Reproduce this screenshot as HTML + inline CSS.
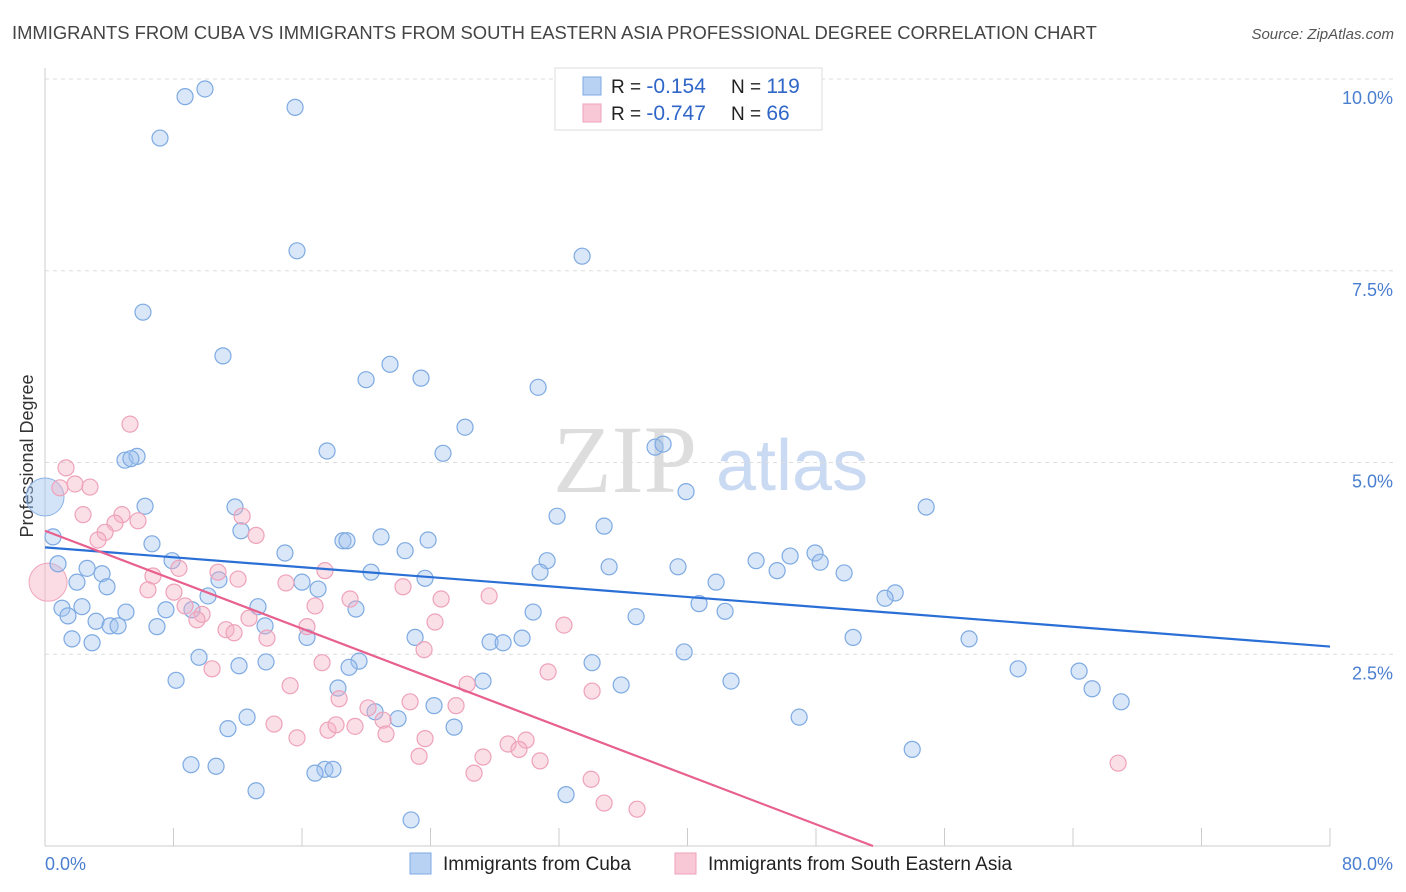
<!DOCTYPE html>
<html><head><meta charset="utf-8"><style>
body{margin:0;background:#fff;font-family:"Liberation Sans",sans-serif;}
#wrap{position:relative;width:1406px;height:892px;overflow:hidden;}
</style></head><body>
<div id="wrap">
<svg id="chart" width="1406" height="892" xmlns="http://www.w3.org/2000/svg"></svg>
</div>
<script>
const blueX=[9.96,8.72,15.57,7.16,15.69,33.44,6.10,11.08,21.48,19.99,23.41,30.70,26.15,17.56,24.78,37.98,38.48,4.98,5.73,5.35,39.91,54.86,6.23,11.83,31.88,34.81,12.20,0.50,18.55,18.80,20.92,23.85,6.66,14.94,22.42,31.26,44.27,46.39,47.94,48.26,7.91,0.81,2.62,3.55,35.12,39.41,20.30,30.82,45.58,49.75,23.66,41.78,10.83,1.99,3.86,16.00,17.00,10.15,52.93,52.30,1.06,2.30,9.15,7.53,13.26,5.04,30.39,40.72,42.34,19.36,1.43,3.18,4.05,4.55,6.97,36.80,13.70,16.31,23.04,27.71,28.52,29.70,50.31,57.53,1.68,2.93,39.79,9.59,13.76,12.08,19.55,18.93,34.06,60.58,64.38,8.16,27.27,18.24,35.87,42.71,65.19,67.00,24.22,20.55,12.58,21.98,46.95,11.39,25.47,53.99,9.09,10.65,17.43,17.93,16.81,13.14,32.44,22.79];
const blueY=[9.87,9.77,9.63,9.23,7.76,7.69,6.96,6.39,6.28,6.08,6.10,5.98,5.46,5.15,5.12,5.20,5.24,5.03,5.08,5.05,4.62,4.42,4.43,4.42,4.30,4.17,4.11,4.03,3.98,3.98,4.03,3.99,3.94,3.82,3.85,3.72,3.72,3.78,3.82,3.70,3.72,3.68,3.62,3.55,3.64,3.64,3.57,3.57,3.59,3.56,3.49,3.44,3.47,3.44,3.38,3.44,3.35,3.26,3.30,3.23,3.10,3.12,3.08,3.08,3.12,3.05,3.05,3.16,3.06,3.09,3.00,2.93,2.87,2.87,2.86,2.99,2.87,2.72,2.72,2.66,2.65,2.71,2.72,2.70,2.70,2.65,2.53,2.46,2.40,2.35,2.41,2.33,2.39,2.31,2.28,2.16,2.15,2.06,2.10,2.15,2.05,1.88,1.83,1.75,1.68,1.66,1.68,1.53,1.55,1.26,1.06,1.04,1.00,1.00,0.95,0.72,0.67,0.34];
const pinkX=[5.29,1.31,1.87,2.80,0.93,2.37,4.79,5.79,4.36,12.27,3.74,13.14,3.30,8.34,10.77,6.72,17.43,12.02,22.29,6.41,15.00,8.03,27.65,18.99,24.66,8.72,16.81,12.70,9.78,9.46,24.28,32.31,16.31,11.27,11.77,13.82,23.60,17.25,10.40,31.32,26.28,15.26,34.06,18.31,22.73,25.59,20.11,21.05,14.26,17.62,18.12,19.30,21.23,23.66,15.69,28.83,29.95,29.51,23.29,27.27,30.82,66.81,26.71,34.00,34.81,36.86];
const pinkY=[5.50,4.93,4.72,4.68,4.67,4.32,4.32,4.24,4.21,4.30,4.09,4.05,3.99,3.62,3.57,3.52,3.59,3.48,3.38,3.34,3.43,3.31,3.26,3.22,3.22,3.13,3.13,2.97,3.02,2.95,2.92,2.88,2.86,2.82,2.78,2.71,2.56,2.39,2.31,2.27,2.11,2.09,2.02,1.92,1.88,1.83,1.80,1.64,1.59,1.51,1.58,1.56,1.46,1.40,1.41,1.33,1.38,1.26,1.17,1.16,1.11,1.08,0.95,0.87,0.56,0.48];
const bigBlue=[0.0,4.55], bigPink=[0.19,3.44];
const yTicks=[2.5,5.0,7.5,10.0];
const yTickLabels=["2.5%","5.0%","7.5%","10.0%"];
const xTicks=[8,16,24,32,40,48,56,64,72,80];

const NS="http://www.w3.org/2000/svg";
const svg=document.getElementById('chart');
const X0=45,X1=1330,Y0=846,Y1=79;
const sx=v=>X0+(X1-X0)*v/80;
const sy=v=>Y0-(Y0-Y1)*v/10;
function mk(tag,attrs,parent){const e=document.createElementNS(NS,tag);for(const k in attrs)e.setAttribute(k,attrs[k]);(parent||svg).appendChild(e);return e;}

let t=mk('text',{x:12,y:39,'font-size':18.4,fill:'#444'});
t.textContent="IMMIGRANTS FROM CUBA VS IMMIGRANTS FROM SOUTH EASTERN ASIA PROFESSIONAL DEGREE CORRELATION CHART";


t=mk('text',{x:1394,y:39,'font-size':15,fill:'#555','font-style':'italic','text-anchor':'end'});
t.textContent="Source: ZipAtlas.com";



t=mk('text',{x:553,y:492,'font-size':96,fill:'#ddd','font-family':'Liberation Serif, serif'});
t.textContent="ZIP";


t=mk('text',{x:716,y:490,'font-size':72,fill:'#c9daf2'});
t.textContent="atlas";



yTicks.forEach((v,i)=>{
  let g=mk('line',{x1:X0,x2:1395,y1:sy(v),y2:sy(v),stroke:'#ddd','stroke-dasharray':'4,4'});
  
  
  let l=mk('text',{x:1393,y:sy(v)+25,'font-size':18,fill:'#4a7fd0','text-anchor':'end'});
  l.textContent=yTickLabels[i];
  
  
});
let ax=mk('line',{x1:X0,x2:X0,y1:68,y2:Y0,stroke:'#ccc'});


ax=mk('line',{x1:X0,x2:X1,y1:Y0,y2:Y0,stroke:'#ccc'});


xTicks.forEach(v=>{
  let k=mk('line',{x1:sx(v),x2:sx(v),y1:828,y2:Y0,stroke:'#ccc'});
  
  
});
t=mk('text',{x:45,y:870,'font-size':18,fill:'#4a7fd0'});t.textContent="0.0%";


t=mk('text',{x:1393,y:870,'font-size':18,fill:'#4a7fd0','text-anchor':'end'});t.textContent="80.0%";


t=mk('text',{x:0,y:0,'font-size':18,fill:'#333','text-anchor':'middle',transform:'translate(33,456) rotate(-90)'});
t.textContent="Professional Degree";



function pts(xs,ys,fill,stroke,name){
  xs.forEach((x,i)=>{
    let c=mk('circle',{cx:sx(x),cy:sy(ys[i]),r:8,fill:fill,stroke:stroke,'stroke-width':1.2});
    
    
  });
}
let bb=mk('circle',{cx:sx(bigBlue[0]),cy:sy(bigBlue[1]),r:19,fill:'rgba(160,196,240,0.45)',stroke:'#8ab2e6'});


let bp=mk('circle',{cx:sx(bigPink[0]),cy:sy(bigPink[1]),r:19,fill:'rgba(246,176,196,0.45)',stroke:'#f0a6bc'});


pts(blueX,blueY,'rgba(160,196,240,0.4)','#7eaae2','cuba-point');
pts(pinkX,pinkY,'rgba(246,176,196,0.4)','#eea2ba','sea-point');

function reg(xs,ys){const n=xs.length;let mx=0,my=0;xs.forEach((x,i)=>{mx+=x;my+=ys[i];});mx/=n;my/=n;let a=0,b=0;xs.forEach((x,i)=>{a+=(x-mx)*(ys[i]-my);b+=(x-mx)*(x-mx);});const m=a/b;return [m,my-m*mx];}
let [mb,cb]=reg(blueX,blueY);
let l1=mk('line',{x1:sx(0),y1:sy(cb),x2:sx(80),y2:sy(cb+mb*80),stroke:'#2a6fd6','stroke-width':2.2});


let [mp,cp]=reg(pinkX,pinkY);
let xe=Math.min(80,-cp/mp);
let l2=mk('line',{x1:sx(0),y1:sy(cp),x2:sx(xe),y2:sy(cp+mp*xe),stroke:'#e8608e','stroke-width':2.2});



let lg=mk('rect',{x:555,y:68,width:267,height:62,fill:'#fff',stroke:'#ddd'});


function statRow(y,fill,stroke,r,n,name){
  let s=mk('rect',{x:583,y:y-16,width:18,height:18,fill:fill,stroke:stroke});
  
  
  let tx=mk('text',{x:611,y:y,'font-size':19,fill:'#222'});
  
  
  tx.innerHTML='R = <tspan fill="#2f66c8" font-size="21">'+r+'</tspan><tspan x="731">N = </tspan><tspan fill="#2f66c8" font-size="21">'+n+'</tspan>';
}
statRow(93,'#b8d2f4','#7eaae2','-0.154','119','cuba');
statRow(120,'#f9c8d6','#eea2ba','-0.747',' 66','sea');

function leg(x,fill,stroke,label,name){
  let s=mk('rect',{x:x,y:853,width:21,height:21,fill:fill,stroke:stroke});
  
  
  let tx=mk('text',{x:x+33,y:870,'font-size':19,fill:'#222'});
  tx.textContent=label;
  
  
}
leg(410,'#b8d2f4','#7eaae2','Immigrants from Cuba','cuba');
leg(675,'#f9c8d6','#eea2ba','Immigrants from South Eastern Asia','sea');
</script>
</body></html>
